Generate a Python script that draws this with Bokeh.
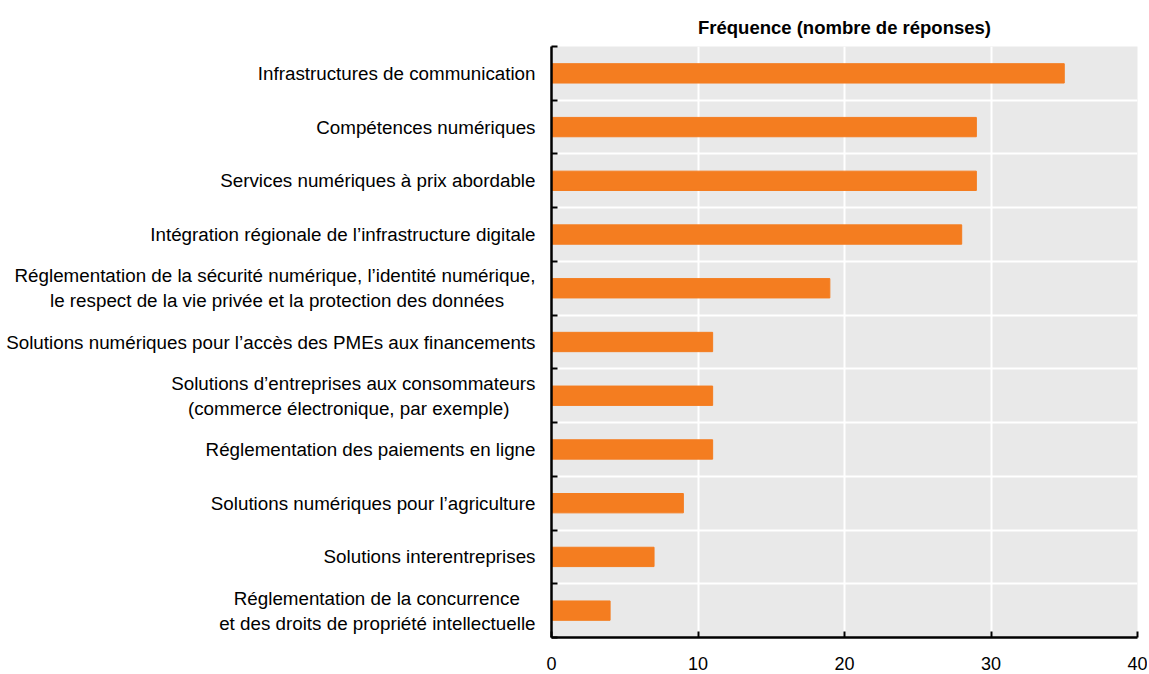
from bokeh.plotting import figure
from bokeh.models import FixedTicker, Range1d
from bokeh.embed import file_html
from bokeh.resources import INLINE

NB = "\u00a0"
categories = [
    "Infrastructures de communication",
    "Compétences numériques",
    "Services numériques à prix abordable",
    "Intégration régionale de l\u2019infrastructure digitale",
    "Réglementation de la sécurité numérique, l\u2019identité numérique,\nle respect de la vie privée et la protection des données" + NB * 6,
    "Solutions numériques pour l\u2019accès des PMEs aux financements",
    "Solutions d\u2019entreprises aux consommateurs\n(commerce électronique, par exemple)" + NB * 5,
    "Réglementation des paiements en ligne",
    "Solutions numériques pour l\u2019agriculture",
    "Solutions interentreprises",
    "Réglementation de la concurrence" + NB * 3 + "\net des droits de propriété intellectuelle",
]
values = [35, 29, 29, 28, 19, 11, 11, 11, 9, 7, 4]
x_ticks = [0, 10, 20, 30, 40]
title_text = "Fréquence (nombre de réponses)"

n = len(categories)
pos = list(range(n))
bounds = [i - 0.5 for i in range(n + 1)]

p = figure(width=1147, height=672, output_backend="svg", toolbar_location=None,
           x_range=Range1d(0, 40), y_range=Range1d(n - 0.5, -0.5),
           min_border_left=551, min_border_right=10, min_border_top=46, min_border_bottom=35,
           title=title_text)

p.hbar(y=pos, right=values, left=0, height=0.36, color="#f47d20")

p.background_fill_color = "#e9e9e9"
p.border_fill_color = "white"
p.outline_line_color = None

p.title.text_font = "Liberation Sans"
p.title.text_font_size = "18.5px"
p.title.text_font_style = "bold"
p.title.text_color = "black"
p.title.align = "center"
p.title.offset = 0
p.title.standoff = 18

# x axis
p.xaxis.ticker = FixedTicker(ticks=x_ticks)
p.xaxis.axis_line_width = 2.5
p.xaxis.axis_line_color = "black"
p.xaxis.major_tick_in = 6
p.xaxis.major_tick_out = 0
p.xaxis.major_tick_line_width = 2
p.xaxis.minor_tick_line_color = None
p.xaxis.major_label_standoff = 19
p.xaxis.major_label_text_font = "Liberation Sans"
p.xaxis.major_label_text_font_size = "18px"
p.xaxis.major_label_text_color = "black"

# y axis
p.yaxis.ticker = FixedTicker(ticks=pos, minor_ticks=bounds)
p.yaxis.major_label_overrides = {i: c for i, c in enumerate(categories)}
p.yaxis.axis_line_width = 2.5
p.yaxis.axis_line_color = "black"
p.yaxis.major_tick_line_color = None
p.yaxis.minor_tick_in = 6
p.yaxis.minor_tick_out = 0
p.yaxis.minor_tick_line_width = 2
p.yaxis.minor_tick_line_color = "black"
p.yaxis.major_label_standoff = 10
p.yaxis.major_label_text_font = "Liberation Sans"
p.yaxis.major_label_text_font_size = "18.8px"
p.yaxis.major_label_text_color = "black"

# grids
p.xgrid.ticker = FixedTicker(ticks=x_ticks)
p.xgrid.grid_line_color = "white"
p.xgrid.grid_line_width = 2
p.ygrid.ticker = FixedTicker(ticks=bounds)
p.ygrid.grid_line_color = "white"
p.ygrid.grid_line_width = 2

open("out.html", "w").write(file_html(p, INLINE))
